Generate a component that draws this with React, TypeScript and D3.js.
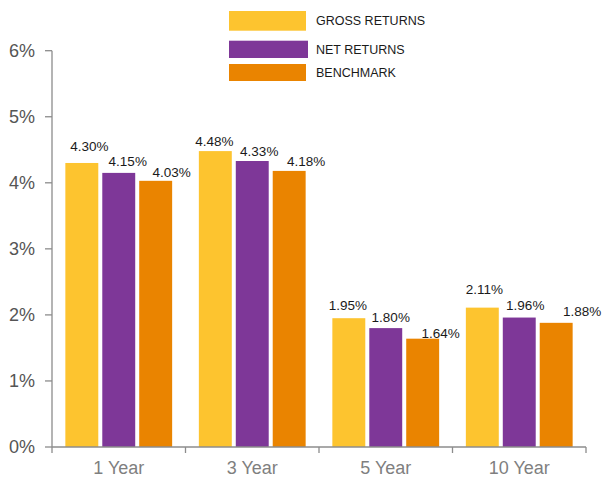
import React from "react";
import * as d3 from "d3";

const categories = ["1 Year", "3 Year", "5 Year", "10 Year"];
const seriesNames = ["GROSS RETURNS", "NET RETURNS", "BENCHMARK"];
const grossReturns = [4.30, 4.48, 1.95, 2.11];
const netReturns = [4.15, 4.33, 1.80, 1.96];
const benchmark = [4.03, 4.18, 1.64, 1.88];
const yTicks = [0, 1, 2, 3, 4, 5, 6];

const seriesColors = ["#FDC42F", "#7E3798", "#EA8400"];
// label placement nudges (dx from bar centre, gap above bar top), per series per category
const labelDx = [[7.5, -1, -1, 2], [9, 7, 5, 6], [16, 17, 18, 26]];
const labelGap = [[12, 5, 8, 14], [7, 5, 6, 8], [4, 5, 1, 7]];

export default function App() {
  const W = 602, H = 479;
  const left = 52, right = 586, top = 50.7, bottom = 447;
  const series = [grossReturns, netReturns, benchmark];

  const x = d3.scaleBand<string>().domain(categories).range([left, right]).paddingInner(0).paddingOuter(0);
  const y = d3.scaleLinear().domain([0, 6]).range([bottom, top]);
  const groupW = x.bandwidth() * 0.8;
  const gap = 4;
  const barW = (groupW - gap * 2) / 3;
  const xs = d3.scaleBand<number>().domain([0, 1, 2]).range([0, groupW]).paddingInner(gap / (barW + gap)).paddingOuter(0);

  const axisColor = "#8C8C8C";
  const textGray = "#555555";
  const catGray = "#7F7F7F";
  const font = "'Liberation Sans', Arial, sans-serif";

  return (
    <svg width={W} height={H} style={{ position: "absolute", left: 0, top: 0, background: "#fff" }}>
      {/* bars */}
      {series.map((vals, si) =>
        vals.map((v, ci) => {
          const bx = (x(categories[ci]) as number) + (x.bandwidth() - groupW) / 2 + (xs(si) as number);
          return (
            <rect key={`b${si}-${ci}`} x={bx} y={y(v)} width={xs.bandwidth()} height={bottom - y(v)} fill={seriesColors[si]} />
          );
        })
      )}
      {/* data labels */}
      {series.map((vals, si) =>
        vals.map((v, ci) => {
          const bx = (x(categories[ci]) as number) + (x.bandwidth() - groupW) / 2 + (xs(si) as number) + xs.bandwidth() / 2;
          return (
            <text key={`l${si}-${ci}`} x={bx + labelDx[si][ci]} y={y(v) - labelGap[si][ci]} textAnchor="middle"
              fontFamily={font} fontSize={13.5} fill="#1a1a1a">
              {v.toFixed(2)}%
            </text>
          );
        })
      )}
      {/* y axis */}
      <line x1={left} x2={left} y1={top} y2={bottom} stroke={axisColor} strokeWidth={1.3} />
      {yTicks.map((t) => (
        <g key={`yt${t}`}>
          <line x1={left - 7} x2={left} y1={y(t)} y2={y(t)} stroke={axisColor} strokeWidth={1.3} />
          <text x={left - 17} y={y(t)} dy="0.36em" textAnchor="end" fontFamily={font} fontSize={18} fill={textGray}>
            {t}%
          </text>
        </g>
      ))}
      {/* x axis */}
      <line x1={left} x2={right} y1={bottom} y2={bottom} stroke={axisColor} strokeWidth={1.3} />
      {[...categories.map((c) => x(c) as number), right].map((px, i) => (
        <line key={`xt${i}`} x1={px} x2={px} y1={bottom} y2={bottom + 6} stroke={axisColor} strokeWidth={1.3} />
      ))}
      {categories.map((c) => (
        <text key={`xl${c}`} x={(x(c) as number) + x.bandwidth() / 2} y={474} textAnchor="middle"
          fontFamily={font} fontSize={18} fill={catGray}>
          {c}
        </text>
      ))}
      {/* legend */}
      {seriesNames.map((name, i) => {
        const ly = [11, 40.7, 64][i];
        const lh = [19.7, 17.3, 17][i];
        const lw = [77, 79, 77][i];
        return (
          <g key={`lg${i}`}>
            <rect x={229} y={ly} width={lw} height={lh} fill={seriesColors[i]} />
            <text x={316} y={ly + lh / 2} dy="0.36em" fontFamily={font} fontSize={12.5} fill="#1a1a1a">
              {name}
            </text>
          </g>
        );
      })}
    </svg>
  );
}
